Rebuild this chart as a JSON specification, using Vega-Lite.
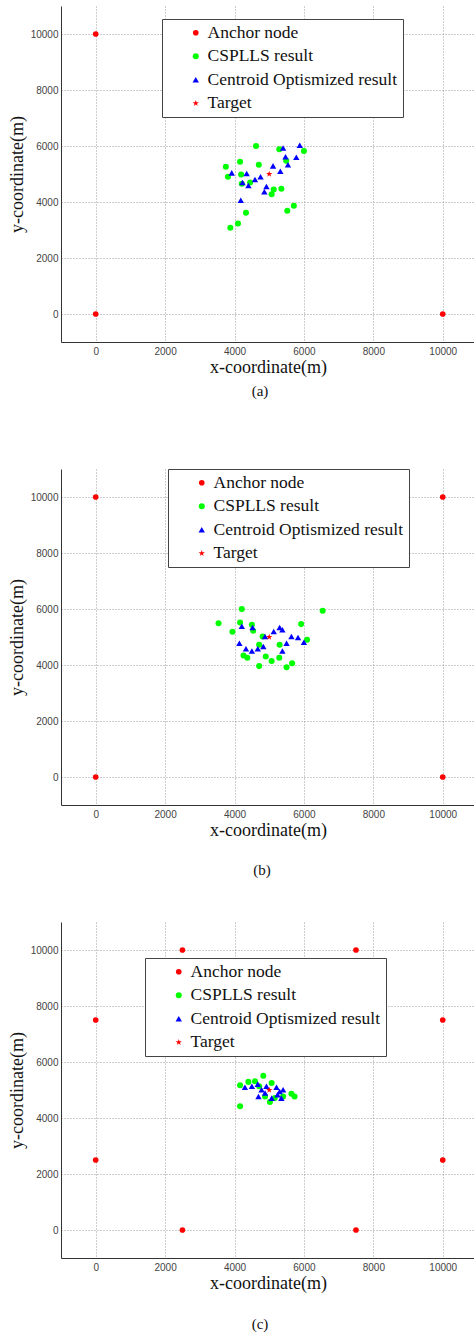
{
  "$schema": "https://vega.github.io/schema/vega-lite/v6.json",
  "padding": {"left": 8, "top": 6, "right": 0, "bottom": 0},
  "background": "white",
  "config": {
    "view": {"stroke": null},
    "axis": {
      "grid": true, "gridColor": "#9a9a9a", "gridDash": [1, 2], "gridWidth": 1,
      "domainColor": "#333", "domainWidth": 1, "tickSize": 0, "format": "d",
      "labelFont": "Liberation Sans", "labelFontSize": 10, "labelColor": "#444",
      "titleFont": "Liberation Serif", "titleFontSize": 18, "titleFontWeight": "normal", "titleColor": "#111"
    },
    "legend": {
      "labelFont": "Liberation Serif", "labelFontSize": 17.5, "labelColor": "#111",
      "fillColor": "white", "strokeColor": "#444", "padding": 5, "rowPadding": 4.5,
      "symbolSize": 30, "symbolOffset": 20, "labelOffset": 3, "symbolStrokeWidth": 0,
      "labelLimit": 400
    }
  },
  "datasets": {
    "a": [
      {"x": 0, "y": 10000, "type": "Anchor node"},
      {"x": 0, "y": 0, "type": "Anchor node"},
      {"x": 10000, "y": 0, "type": "Anchor node"},
      {"x": 4620, "y": 6000, "type": "CSPLLS result"},
      {"x": 5290, "y": 5880, "type": "CSPLLS result"},
      {"x": 6000, "y": 5820, "type": "CSPLLS result"},
      {"x": 4160, "y": 5440, "type": "CSPLLS result"},
      {"x": 4700, "y": 5330, "type": "CSPLLS result"},
      {"x": 3750, "y": 5260, "type": "CSPLLS result"},
      {"x": 3810, "y": 4900, "type": "CSPLLS result"},
      {"x": 4190, "y": 4980, "type": "CSPLLS result"},
      {"x": 4210, "y": 4650, "type": "CSPLLS result"},
      {"x": 4450, "y": 4700, "type": "CSPLLS result"},
      {"x": 5130, "y": 4450, "type": "CSPLLS result"},
      {"x": 5070, "y": 4280, "type": "CSPLLS result"},
      {"x": 5350, "y": 4470, "type": "CSPLLS result"},
      {"x": 5490, "y": 5470, "type": "CSPLLS result"},
      {"x": 5710, "y": 3870, "type": "CSPLLS result"},
      {"x": 5520, "y": 3690, "type": "CSPLLS result"},
      {"x": 4330, "y": 3620, "type": "CSPLLS result"},
      {"x": 4100, "y": 3230, "type": "CSPLLS result"},
      {"x": 3880, "y": 3080, "type": "CSPLLS result"},
      {"x": 3920, "y": 5040, "type": "Centroid Optismized result"},
      {"x": 4350, "y": 5020, "type": "Centroid Optismized result"},
      {"x": 4230, "y": 4700, "type": "Centroid Optismized result"},
      {"x": 4400, "y": 4590, "type": "Centroid Optismized result"},
      {"x": 4590, "y": 4800, "type": "Centroid Optismized result"},
      {"x": 4750, "y": 4900, "type": "Centroid Optismized result"},
      {"x": 4920, "y": 4550, "type": "Centroid Optismized result"},
      {"x": 4860, "y": 4370, "type": "Centroid Optismized result"},
      {"x": 5110, "y": 5290, "type": "Centroid Optismized result"},
      {"x": 5320, "y": 5100, "type": "Centroid Optismized result"},
      {"x": 5400, "y": 5930, "type": "Centroid Optismized result"},
      {"x": 5470, "y": 5620, "type": "Centroid Optismized result"},
      {"x": 5540, "y": 5330, "type": "Centroid Optismized result"},
      {"x": 5780, "y": 5600, "type": "Centroid Optismized result"},
      {"x": 5880, "y": 6030, "type": "Centroid Optismized result"},
      {"x": 4180, "y": 4060, "type": "Centroid Optismized result"},
      {"x": 5000, "y": 5000, "type": "Target"}
    ],
    "b": [
      {"x": 0, "y": 10000, "type": "Anchor node"},
      {"x": 10000, "y": 10000, "type": "Anchor node"},
      {"x": 0, "y": 0, "type": "Anchor node"},
      {"x": 10000, "y": 0, "type": "Anchor node"},
      {"x": 4210, "y": 6000, "type": "CSPLLS result"},
      {"x": 6540, "y": 5940, "type": "CSPLLS result"},
      {"x": 3540, "y": 5490, "type": "CSPLLS result"},
      {"x": 4160, "y": 5520, "type": "CSPLLS result"},
      {"x": 4500, "y": 5440, "type": "CSPLLS result"},
      {"x": 4540, "y": 5220, "type": "CSPLLS result"},
      {"x": 3940, "y": 5190, "type": "CSPLLS result"},
      {"x": 5920, "y": 5460, "type": "CSPLLS result"},
      {"x": 4810, "y": 5020, "type": "CSPLLS result"},
      {"x": 6090, "y": 4900, "type": "CSPLLS result"},
      {"x": 4710, "y": 4720, "type": "CSPLLS result"},
      {"x": 5300, "y": 4720, "type": "CSPLLS result"},
      {"x": 4260, "y": 4340, "type": "CSPLLS result"},
      {"x": 4370, "y": 4260, "type": "CSPLLS result"},
      {"x": 4900, "y": 4300, "type": "CSPLLS result"},
      {"x": 5070, "y": 4140, "type": "CSPLLS result"},
      {"x": 5290, "y": 4260, "type": "CSPLLS result"},
      {"x": 4710, "y": 3960, "type": "CSPLLS result"},
      {"x": 5500, "y": 3920, "type": "CSPLLS result"},
      {"x": 5660, "y": 4060, "type": "CSPLLS result"},
      {"x": 4210, "y": 5380, "type": "Centroid Optismized result"},
      {"x": 4520, "y": 5340, "type": "Centroid Optismized result"},
      {"x": 5300, "y": 5340, "type": "Centroid Optismized result"},
      {"x": 5380, "y": 5260, "type": "Centroid Optismized result"},
      {"x": 5130, "y": 5200, "type": "Centroid Optismized result"},
      {"x": 4880, "y": 5020, "type": "Centroid Optismized result"},
      {"x": 5640, "y": 5020, "type": "Centroid Optismized result"},
      {"x": 5830, "y": 4980, "type": "Centroid Optismized result"},
      {"x": 6000, "y": 4810, "type": "Centroid Optismized result"},
      {"x": 4140, "y": 4780, "type": "Centroid Optismized result"},
      {"x": 5500, "y": 4780, "type": "Centroid Optismized result"},
      {"x": 4330, "y": 4580, "type": "Centroid Optismized result"},
      {"x": 4500, "y": 4500, "type": "Centroid Optismized result"},
      {"x": 4670, "y": 4580, "type": "Centroid Optismized result"},
      {"x": 4830, "y": 4660, "type": "Centroid Optismized result"},
      {"x": 5380, "y": 4500, "type": "Centroid Optismized result"},
      {"x": 5000, "y": 5000, "type": "Target"}
    ],
    "c": [
      {"x": 2500, "y": 10000, "type": "Anchor node"},
      {"x": 7500, "y": 10000, "type": "Anchor node"},
      {"x": 0, "y": 7500, "type": "Anchor node"},
      {"x": 10000, "y": 7500, "type": "Anchor node"},
      {"x": 0, "y": 2500, "type": "Anchor node"},
      {"x": 10000, "y": 2500, "type": "Anchor node"},
      {"x": 2500, "y": 0, "type": "Anchor node"},
      {"x": 7500, "y": 0, "type": "Anchor node"},
      {"x": 4830, "y": 5510, "type": "CSPLLS result"},
      {"x": 4160, "y": 5170, "type": "CSPLLS result"},
      {"x": 4400, "y": 5290, "type": "CSPLLS result"},
      {"x": 4590, "y": 5310, "type": "CSPLLS result"},
      {"x": 5070, "y": 5250, "type": "CSPLLS result"},
      {"x": 4160, "y": 4420, "type": "CSPLLS result"},
      {"x": 5640, "y": 4870, "type": "CSPLLS result"},
      {"x": 5730, "y": 4770, "type": "CSPLLS result"},
      {"x": 5020, "y": 4570, "type": "CSPLLS result"},
      {"x": 5160, "y": 4710, "type": "CSPLLS result"},
      {"x": 5400, "y": 4770, "type": "CSPLLS result"},
      {"x": 4880, "y": 4770, "type": "CSPLLS result"},
      {"x": 4710, "y": 5130, "type": "CSPLLS result"},
      {"x": 4300, "y": 5100, "type": "Centroid Optismized result"},
      {"x": 4670, "y": 5210, "type": "Centroid Optismized result"},
      {"x": 4780, "y": 5010, "type": "Centroid Optismized result"},
      {"x": 4690, "y": 4770, "type": "Centroid Optismized result"},
      {"x": 4880, "y": 4890, "type": "Centroid Optismized result"},
      {"x": 5210, "y": 5100, "type": "Centroid Optismized result"},
      {"x": 5300, "y": 4950, "type": "Centroid Optismized result"},
      {"x": 5400, "y": 5010, "type": "Centroid Optismized result"},
      {"x": 5240, "y": 4830, "type": "Centroid Optismized result"},
      {"x": 5070, "y": 4710, "type": "Centroid Optismized result"},
      {"x": 5350, "y": 4710, "type": "Centroid Optismized result"},
      {"x": 4920, "y": 5130, "type": "Centroid Optismized result"},
      {"x": 4500, "y": 5130, "type": "Centroid Optismized result"},
      {"x": 5000, "y": 5000, "type": "Target"}
    ]
  },
  "spacing": 69,
  "vconcat": [
    {
      "data": {"name": "a"},
      "width": 414, "height": 336,
      "title": {"text": "(a)", "orient": "bottom", "frame": "group", "anchor": "middle", "dx": -8, "offset": 8, "font": "Liberation Serif", "fontSize": 15, "fontWeight": "normal", "color": "#111"},
      "mark": {"type": "point", "filled": true, "opacity": 1},
      "encoding": {
        "x": {"field": "x", "type": "quantitative", "title": "x-coordinate(m)", "scale": {"domain": [-1000, 10930], "nice": false, "zero": false}, "axis": {"values": [0, 2000, 4000, 6000, 8000, 10000], "labelPadding": 4, "titlePadding": 2}},
        "y": {"field": "y", "type": "quantitative", "title": "y-coordinate(m)", "scale": {"domain": [-1000, 11000], "nice": false, "zero": false}, "axis": {"values": [0, 2000, 4000, 6000, 8000, 10000], "labelPadding": 3, "titlePadding": 4}},
        "color": {"field": "type", "type": "nominal", "title": null, "scale": {"domain": ["Anchor node", "CSPLLS result", "Centroid Optismized result", "Target"], "range": ["#ff0000", "#00ff00", "#0000ff", "#ff0000"]}, "legend": {"orient": "none", "legendX": 101, "legendY": 13}},
        "shape": {"field": "type", "type": "nominal", "title": null, "scale": {"domain": ["Anchor node", "CSPLLS result", "Centroid Optismized result", "Target"], "range": ["circle", "circle", "triangle-up", "M0,-1L0.223,-0.307L0.951,-0.309L0.361,0.117L0.588,0.809L0,0.38L-0.588,0.809L-0.361,0.117L-0.951,-0.309L-0.223,-0.307Z"]}, "legend": {"orient": "none", "legendX": 101, "legendY": 13}},
        "size": {"field": "type", "type": "nominal", "scale": {"domain": ["Anchor node", "CSPLLS result", "Centroid Optismized result", "Target"], "range": [32, 45, 48, 300]}, "legend": null}
      }
    },
    {
      "spacing": 44,
      "vconcat": [
        {
          "data": {"name": "b"},
          "width": 414, "height": 336,
          "title": {"text": "(b)", "orient": "bottom", "frame": "group", "anchor": "middle", "dx": -6, "offset": 24, "font": "Liberation Serif", "fontSize": 15, "fontWeight": "normal", "color": "#111"},
          "mark": {"type": "point", "filled": true, "opacity": 1},
          "encoding": {
            "x": {"field": "x", "type": "quantitative", "title": "x-coordinate(m)", "scale": {"domain": [-1000, 10930], "nice": false, "zero": false}, "axis": {"values": [0, 2000, 4000, 6000, 8000, 10000], "labelPadding": 4, "titlePadding": 2}},
            "y": {"field": "y", "type": "quantitative", "title": "y-coordinate(m)", "scale": {"domain": [-1000, 11000], "nice": false, "zero": false}, "axis": {"values": [0, 2000, 4000, 6000, 8000, 10000], "labelPadding": 3, "titlePadding": 4}},
            "color": {"field": "type", "type": "nominal", "title": null, "scale": {"domain": ["Anchor node", "CSPLLS result", "Centroid Optismized result", "Target"], "range": ["#ff0000", "#00ff00", "#0000ff", "#ff0000"]}, "legend": {"orient": "none", "legendX": 107, "legendY": 0}},
            "shape": {"field": "type", "type": "nominal", "title": null, "scale": {"domain": ["Anchor node", "CSPLLS result", "Centroid Optismized result", "Target"], "range": ["circle", "circle", "triangle-up", "M0,-1L0.223,-0.307L0.951,-0.309L0.361,0.117L0.588,0.809L0,0.38L-0.588,0.809L-0.361,0.117L-0.951,-0.309L-0.223,-0.307Z"]}, "legend": {"orient": "none", "legendX": 107, "legendY": 0}},
            "size": {"field": "type", "type": "nominal", "scale": {"domain": ["Anchor node", "CSPLLS result", "Centroid Optismized result", "Target"], "range": [32, 45, 48, 300]}, "legend": null}
          }
        },
        {
          "data": {"name": "c"},
          "width": 414, "height": 336,
          "title": {"text": "(c)", "orient": "bottom", "frame": "group", "anchor": "middle", "dx": -8, "offset": 25, "font": "Liberation Serif", "fontSize": 15, "fontWeight": "normal", "color": "#111"},
          "mark": {"type": "point", "filled": true, "opacity": 1},
          "encoding": {
            "x": {"field": "x", "type": "quantitative", "title": "x-coordinate(m)", "scale": {"domain": [-1000, 10930], "nice": false, "zero": false}, "axis": {"values": [0, 2000, 4000, 6000, 8000, 10000], "labelPadding": 4, "titlePadding": 2}},
            "y": {"field": "y", "type": "quantitative", "title": "y-coordinate(m)", "scale": {"domain": [-1000, 11000], "nice": false, "zero": false}, "axis": {"values": [0, 2000, 4000, 6000, 8000, 10000], "labelPadding": 3, "titlePadding": 4}},
            "color": {"field": "type", "type": "nominal", "title": null, "scale": {"domain": ["Anchor node", "CSPLLS result", "Centroid Optismized result", "Target"], "range": ["#ff0000", "#00ff00", "#0000ff", "#ff0000"]}, "legend": {"orient": "none", "legendX": 84, "legendY": 36}},
            "shape": {"field": "type", "type": "nominal", "title": null, "scale": {"domain": ["Anchor node", "CSPLLS result", "Centroid Optismized result", "Target"], "range": ["circle", "circle", "triangle-up", "M0,-1L0.223,-0.307L0.951,-0.309L0.361,0.117L0.588,0.809L0,0.38L-0.588,0.809L-0.361,0.117L-0.951,-0.309L-0.223,-0.307Z"]}, "legend": {"orient": "none", "legendX": 84, "legendY": 36}},
            "size": {"field": "type", "type": "nominal", "scale": {"domain": ["Anchor node", "CSPLLS result", "Centroid Optismized result", "Target"], "range": [32, 45, 48, 300]}, "legend": null}
          }
        }
      ],
      "resolve": {"scale": {"color": "independent", "shape": "independent", "size": "independent"}, "legend": {"color": "independent", "shape": "independent"}}
    }
  ],
  "resolve": {"scale": {"color": "independent", "shape": "independent", "size": "independent"}, "legend": {"color": "independent", "shape": "independent"}}
}
